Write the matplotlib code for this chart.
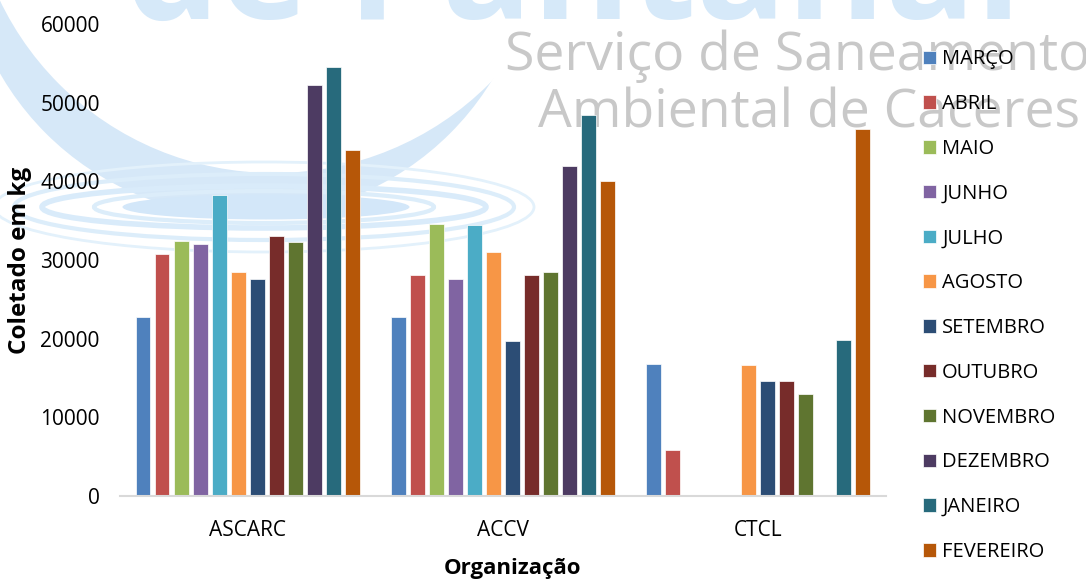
import numpy as np
import matplotlib.pyplot as plt
from matplotlib.patches import Ellipse, Circle

plt.rcParams['font.family'] = ['Open Sans', 'DejaVu Sans']

organizacoes = ['ASCARC', 'ACCV', 'CTCL']
meses = ['MARÇO', 'ABRIL', 'MAIO', 'JUNHO', 'JULHO', 'AGOSTO', 'SETEMBRO',
         'OUTUBRO', 'NOVEMBRO', 'DEZEMBRO', 'JANEIRO', 'FEVEREIRO']
cores = ['#4F81BD', '#C0504D', '#9BBB59', '#8064A2', '#4BACC6', '#F79646',
         '#2C4D75', '#772C2A', '#5F7530', '#4D3B62', '#276A7C', '#B65708']

# kg coletados por mes (ASCARC, ACCV, CTCL)
marco = [22800, 22800, 16800]
abril = [30800, 28100, 5900]
maio = [32400, 34600, 0]
junho = [32000, 27600, 0]
julho = [38300, 34400, 0]
agosto = [28500, 31000, 16600]
setembro = [27600, 19700, 14600]
outubro = [33000, 28100, 14600]
novembro = [32300, 28500, 13000]
dezembro = [52300, 41900, 0]
janeiro = [54500, 48400, 19800]
fevereiro = [44000, 40100, 46700]
valores = [marco, abril, maio, junho, julho, agosto, setembro,
           outubro, novembro, dezembro, janeiro, fevereiro]

fig = plt.figure(figsize=(10.86, 5.8), dpi=100)

# marca d'agua de fundo (em pixels)
bg = fig.add_axes([0, 0, 1, 1], zorder=-1)
bg.set_xlim(0, 1086)
bg.set_ylim(580, 0)
bg.axis('off')
bg.add_patch(Circle((248, -69), 286, color='#d6e8f8', lw=0))
bg.add_patch(Circle((274, -131), 304, color='white', lw=0))
bg.text(125, 19, 'de Pantanal', fontsize=108, fontweight='bold', color='#d6e9f9',
        ha='left', va='baseline')
for w, h, lw, c in [(540, 90, 2, '#e3f1fb'), (500, 66, 3, '#dcedfa'),
                    (444, 42, 4, '#d9ebfa'), (340, 32, 3, '#dcedfa')]:
    bg.add_patch(Ellipse((264, 207), w, h, fill=False, ec=c, lw=lw))
bg.add_patch(Ellipse((266, 207), 287, 25, color='#d3e7f9', lw=0))
bg.text(505, 70, 'Serviço de Saneamento', fontsize=38.5, color='#c8c8c8',
        ha='left', va='baseline')
bg.text(538, 128, 'Ambiental de Caceres', fontsize=38.5, color='#c8c8c8',
        ha='left', va='baseline')

ax = fig.add_axes([0.1105, 0.1448, 0.7053, 0.8138])
ax.patch.set_alpha(0)

x = np.arange(len(organizacoes))
passo = 0.0745
for i, (mes, v, c) in enumerate(zip(meses, valores, cores)):
    ax.bar(x + (i - 5.5) * passo, v, width=passo * 0.78, color=c,
           edgecolor='white', linewidth=0.5, label=mes)

ax.set_xlim(-0.5, 2.5)
ax.set_ylim(0, 60000)
ax.set_yticks(range(0, 60001, 10000))
ax.set_xticks(x)
ax.set_xticklabels(organizacoes)
ax.tick_params(axis='both', length=0, labelsize=15)
ax.tick_params(axis='y', pad=14.5)
ax.tick_params(axis='x', pad=17)
for s in ['top', 'right', 'left']:
    ax.spines[s].set_visible(False)
ax.spines['bottom'].set_color('#d9d9d9')
ax.spines['bottom'].set_linewidth(1.5)

ax.set_ylabel('Coletado em kg', fontsize=17.5, fontweight='bold', labelpad=6)
ax.set_xlabel('Organização', fontsize=16, fontweight='bold')
ax.xaxis.set_label_coords(0.512, -0.131)

fig.legend(loc='center left', bbox_to_anchor=(0.850, 0.473), frameon=False,
           fontsize=14.5, handlelength=0.65, handleheight=0.65, handletextpad=0.3,
           labelspacing=1.23, borderpad=0, borderaxespad=0)

fig.savefig('out.png', dpi=100)
